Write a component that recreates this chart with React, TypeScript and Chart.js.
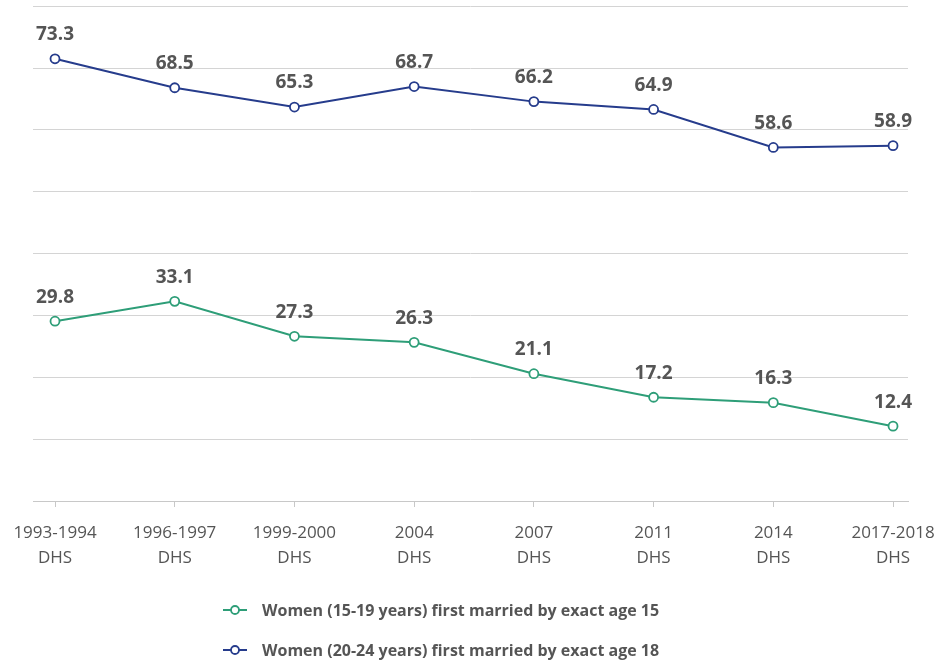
import React, { useEffect, useRef } from "react";
import { Chart, registerables } from "chart.js";

Chart.register(...registerables);

const categories: string[][] = [
  ["1993-1994", "DHS"],
  ["1996-1997", "DHS"],
  ["1999-2000", "DHS"],
  ["2004", "DHS"],
  ["2007", "DHS"],
  ["2011", "DHS"],
  ["2014", "DHS"],
  ["2017-2018", "DHS"],
];
const age15Values: number[] = [29.8, 33.1, 27.3, 26.3, 21.1, 17.2, 16.3, 12.4];
const age18Values: number[] = [73.3, 68.5, 65.3, 68.7, 66.2, 64.9, 58.6, 58.9];
const seriesLabels: string[] = [
  "Women (15-19 years) first married by exact age 15",
  "Women (20-24 years) first married by exact age 18",
];
const seriesColors: string[] = ["#2e9e78", "#263c8c"];

const valueLabelPlugin = {
  id: "valueLabels",
  afterDatasetsDraw(chart: any) {
    const ctx = chart.ctx;
    ctx.save();
    ctx.font = "bold 19px 'Open Sans'";
    ctx.fillStyle = "#555555";
    ctx.textAlign = "center";
    ctx.textBaseline = "middle";
    chart.data.datasets.forEach((ds: any, di: number) => {
      const meta = chart.getDatasetMeta(di);
      meta.data.forEach((pt: any, i: number) => {
        const v = ds.data[i].y;
        ctx.fillText(v.toFixed(1), pt.x, pt.y - 24);
      });
    });
    ctx.restore();
  },
};

export default function App() {
  const ref = useRef<HTMLCanvasElement | null>(null);
  useEffect(() => {
    if (!ref.current) return;
    const toPts = (arr: number[]) => arr.map((y, i) => ({ x: i, y }));
    const chart = new Chart(ref.current, {
      type: "line",
      data: {
        datasets: [age15Values, age18Values].map((vals, k) => ({
          label: seriesLabels[k],
          data: toPts(vals),
          borderColor: seriesColors[k],
          backgroundColor: "#ffffff",
          pointBackgroundColor: "#ffffff",
          pointBorderColor: seriesColors[k],
          pointBorderWidth: 1.8,
          pointRadius: 4.5,
          borderWidth: 2,
          tension: 0,
        })),
      },
      options: {
        animation: false,
        responsive: true,
        maintainAspectRatio: false,
        layout: { padding: { top: 6, left: 33, right: 30, bottom: 77 } },
        plugins: {
          legend: { display: false },
          tooltip: { enabled: false },
        },
        scales: {
          x: {
            type: "linear",
            min: -0.1838,
            max: 7.125,
            afterBuildTicks: (scale: any) => {
              scale.ticks = categories.map((_, i) => ({ value: i }));
            },
            afterFit: (scale: any) => {
              scale.paddingLeft = 0;
              scale.paddingRight = 0;
            },
            ticks: {
              padding: 14,
              color: "#555555",
              font: { family: "'Open Sans'", size: 17, lineHeight: "25px" },
              maxRotation: 0,
              autoSkip: false,
              callback: (v: any) => categories[Number(v)] ?? "",
            },
            grid: {
              drawOnChartArea: false,
              drawTicks: true,
              tickLength: 6,
              color: "#c8c8c8",
            },
            border: { display: true, color: "#c8c8c8", width: 1 },
          },
          y: {
            min: 0,
            max: 82,
            ticks: { stepSize: 10.25, display: false },
            grid: { color: "#d4d4d4", drawTicks: false },
            border: { display: false },
            afterFit: (scale: any) => {
              scale.width = 0;
            },
          },
        },
      },
      plugins: [valueLabelPlugin],
    });
    return () => chart.destroy();
  }, []);

  const legendRows = [0, 1];
  return (
    <div style={{ position: "fixed", left: 0, top: 0, width: 938, height: 662, background: "#fff" }}>
      <canvas ref={ref} />
      <div style={{ position: "absolute", left: 222, top: 596, fontFamily: "'Open Sans'" }}>
        {legendRows.map((k) => (
          <div key={k} style={{ display: "flex", alignItems: "center", height: 40, marginTop: k === 0 ? -6 : 0 }}>
            <svg width={28} height={12} style={{ marginRight: 12 }}>
              <line x1={1} y1={6} x2={25} y2={6} stroke={seriesColors[k]} strokeWidth={2} />
              <circle cx={13} cy={6} r={4} fill="#fff" stroke={seriesColors[k]} strokeWidth={1.8} />
            </svg>
            <span style={{ fontWeight: 700, fontSize: 16, color: "#555555" }}>{seriesLabels[k]}</span>
          </div>
        ))}
      </div>
    </div>
  );
}
